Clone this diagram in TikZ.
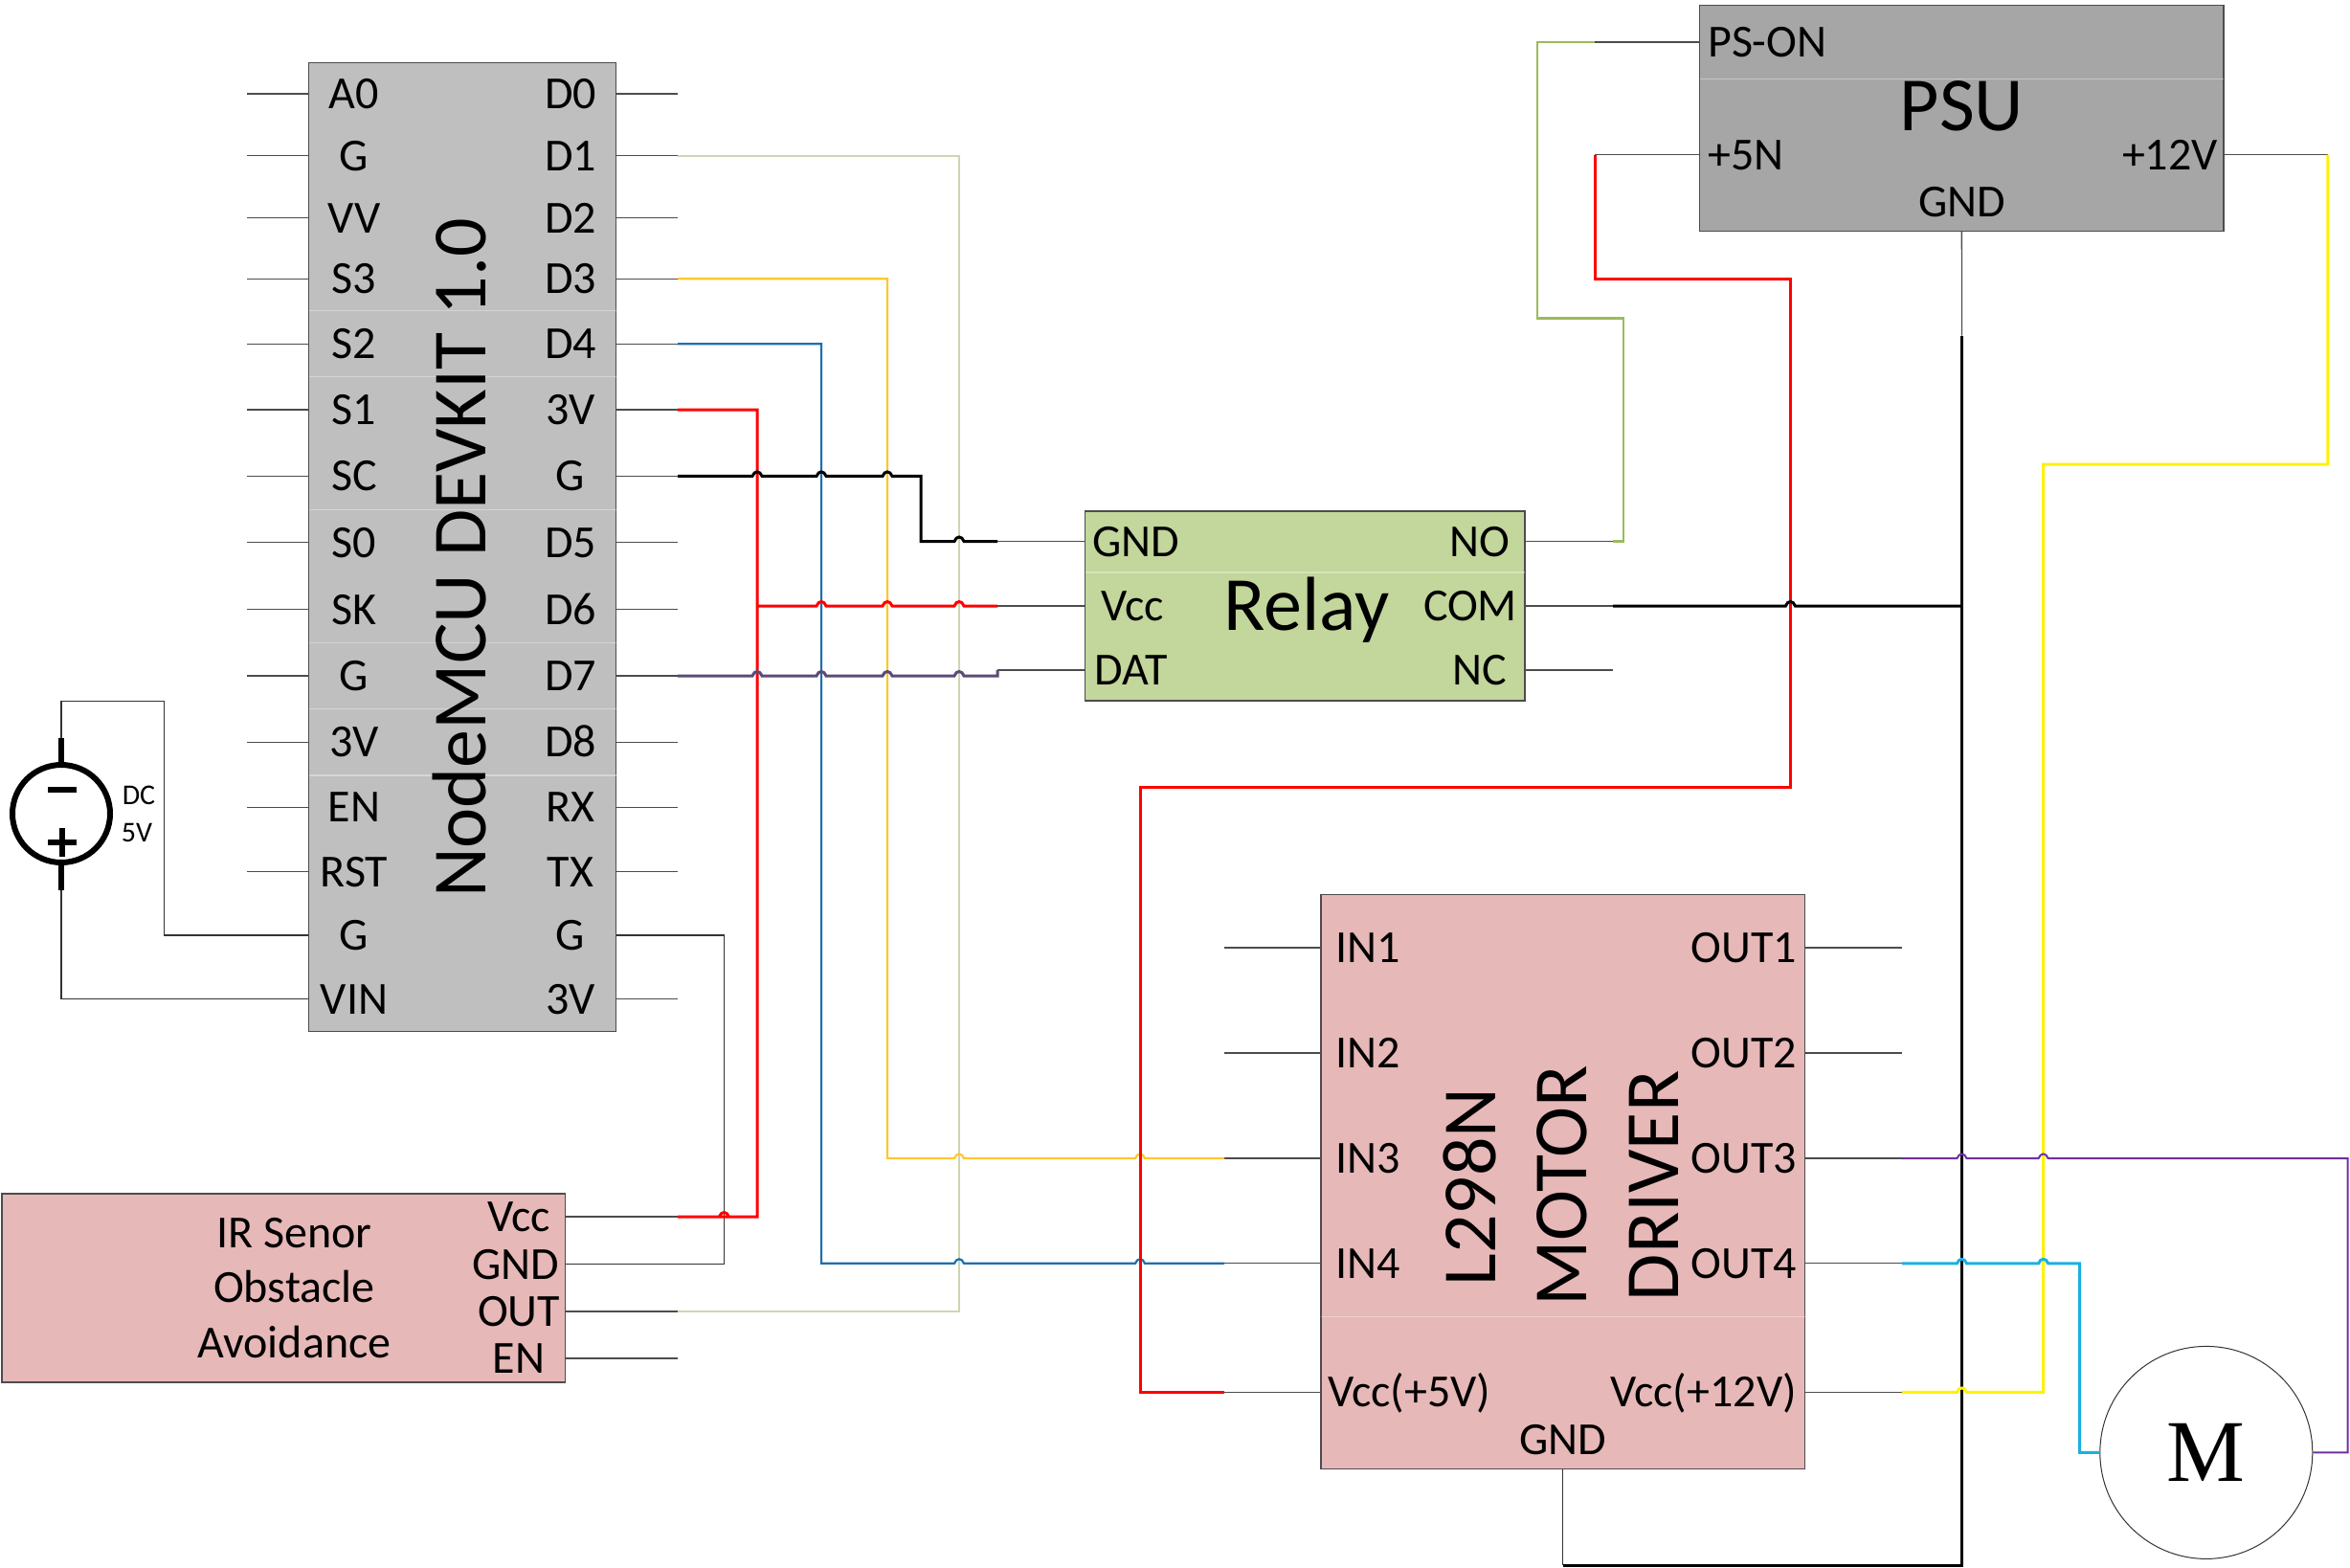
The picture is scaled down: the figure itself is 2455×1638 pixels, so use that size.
\documentclass[tikz,border=0pt]{standalone}
\usepackage{fontspec}
\setmainfont{Carlito}
\newfontfamily\motorfont{Liberation Serif}
\newcommand{\hop}[2]{-- (#1-5,#2) .. controls (#1-3,#2-6) and (#1+3,#2-6) .. (#1+5,#2)}
\definecolor{mcugray}{HTML}{BFBFBF}
\definecolor{psugray}{HTML}{A6A6A6}
\definecolor{relaygreen}{HTML}{C3D69B}
\definecolor{boardpink}{HTML}{E6B8B7}
\definecolor{creamline}{HTML}{CDD6B0}
\definecolor{goldline}{HTML}{FFC62E}
\definecolor{blueline}{HTML}{1F6FAE}
\definecolor{dulline}{HTML}{5A4A78}
\definecolor{greenline}{HTML}{9BBB59}
\definecolor{violetline}{HTML}{7030A0}
\definecolor{cyanline}{HTML}{1CB0E0}
\begin{document}
\begin{tikzpicture}[
	x=1pt,y=-1pt,
	board/.style={draw=black!70,line width=1.2pt,inner sep=0pt},
	pinname/.style={font=\fontsize{48}{52}\selectfont,inner sep=0pt,text height=31pt,text depth=0pt},
	bigname/.style={font=\fontsize{80}{86}\selectfont,inner sep=0pt,text height=51.5pt,text depth=0pt},
	smallname/.style={font=\fontsize{30}{34}\selectfont,inner sep=0pt,text height=19pt,text depth=0pt},
	sepline/.style={draw=white,opacity=.35,line width=1.5pt},
	stub/.style={draw=black!70,line width=1.3pt},
	thinwire/.style={draw=black!80,line width=1.3pt},
	lead/.style={draw=black,line width=6pt},
	wireblack/.style={draw=black,line width=3pt},
	wirered/.style={draw=red,line width=3pt},
	wirecream/.style={draw=creamline,line width=2pt},
	wiregold/.style={draw=goldline,line width=2.2pt},
	wireblue/.style={draw=blueline,line width=2.2pt},
	wiredull/.style={draw=dulline,line width=3pt},
	wiregreen/.style={draw=greenline,line width=2.5pt},
	wireyellow/.style={draw=yellow,line width=3pt},
	wireviolet/.style={draw=violetline,line width=2pt},
	wirecyan/.style={draw=cyanline,line width=3pt}
	]
	\useasboundingbox (0,0) rectangle (2455,1638);

	\node[board,fill=mcugray,minimum width=320.8pt,minimum height=1011.6pt] (mcu) at (483.1,571.6) {};
	\node[board,fill=boardpink,minimum width=588.6pt,minimum height=197pt] (ir) at (296.3,1345.5) {};
	\node[board,fill=relaygreen,minimum width=459.4pt,minimum height=198pt] (relay) at (1363.3,633) {};
	\node[board,fill=psugray,minimum width=547.3pt,minimum height=235.7pt] (psu) at (2049.35,123.45) {};
	\node[board,fill=boardpink,minimum width=505.6pt,minimum height=599.6pt] (driver) at (1632.8,1234.6) {};
	\node[draw=black!80,line width=1pt,circle,inner sep=0pt,minimum size=222pt,font=\fontsize{92}{100}\motorfont] (motor) at (2304.8,1517.4) {M};
	\node[draw=black,line width=6pt,circle,inner sep=0pt,minimum size=102pt] (dc) at (64,850) {};

	\draw[sepline] (322.7,324.5) -- (643.5,324.5);
	\draw[sepline] (322.7,393.4) -- (643.5,393.4);
	\draw[sepline] (322.7,532.7) -- (643.5,532.7);
	\draw[sepline] (322.7,671.4) -- (643.5,671.4);
	\draw[sepline] (322.7,740.3) -- (643.5,740.3);
	\draw[sepline] (322.7,810) -- (643.5,810);
	\draw[sepline] (1775.7,82.6) -- (2323,82.6);
	\draw[sepline] (1133.6,598) -- (1593,598);
	\draw[sepline] (1380,1375.3) -- (1885.6,1375.3);

	\node[bigname,rotate=90] (mcutitle) at (481.5,583) {NodeMCU DEVKIT 1.0};
	\node[bigname] (relaytitle) at (1364.7,633) {Relay};
	\node[bigname] (psutitle) at (2049.5,111) {PSU};
	\node[bigname,rotate=90] (drvtitlea) at (1536.5,1240) {L298N};
	\node[bigname,rotate=90] (drvtitleb) at (1631.6,1238.8) {MOTOR};
	\node[bigname,rotate=90] (drvtitlec) at (1728,1238.8) {DRIVER};
	\node[pinname] (irtitlea) at (307.4,1288) {IR Senor};
	\node[pinname] (irtitleb) at (307.4,1345) {Obstacle};
	\node[pinname] (irtitlec) at (307.4,1403) {Avoidance};
	\node[smallname] (dctext) at (145,831) {DC};
	\node[smallname] (vtext) at (143,870) {5V};

	\node[pinname] (a0) at (370,98) {A0};
	\node[pinname] (gl1) at (370,162.8) {G};
	\node[pinname] (vv) at (370,227.6) {VV};
	\node[pinname] (s3) at (370,291.3) {S3};
	\node[pinname] (s2) at (370,359.2) {S2};
	\node[pinname] (s1) at (370,428) {S1};
	\node[pinname] (sc) at (370,497.4) {SC};
	\node[pinname] (s0) at (370,566.8) {S0};
	\node[pinname] (sk) at (370,636.7) {SK};
	\node[pinname] (gl2) at (370,706) {G};
	\node[pinname] (vl3) at (370,775.4) {3V};
	\node[pinname] (en) at (370,843.3) {EN};
	\node[pinname] (rst) at (370,910.6) {RST};
	\node[pinname] (gl3) at (370,977) {G};
	\node[pinname] (vin) at (370,1043.8) {VIN};

	\node[pinname] (d0) at (596,98) {D0};
	\node[pinname] (d1) at (596,162.8) {D1};
	\node[pinname] (d2) at (596,227.6) {D2};
	\node[pinname] (d3) at (596,291.3) {D3};
	\node[pinname] (d4) at (596,359.2) {D4};
	\node[pinname] (vr1) at (596,428) {3V};
	\node[pinname] (gr1) at (596,497.4) {G};
	\node[pinname] (d5) at (596,566.8) {D5};
	\node[pinname] (d6) at (596,636.7) {D6};
	\node[pinname] (d7) at (596,706) {D7};
	\node[pinname] (d8) at (596,775.4) {D8};
	\node[pinname] (rx) at (596,843.3) {RX};
	\node[pinname] (tx) at (596,910.6) {TX};
	\node[pinname] (gr2) at (596,977) {G};
	\node[pinname] (vr2) at (596,1043.8) {3V};

	\node[pinname] (irvcc) at (542,1271) {Vcc};
	\node[pinname] (irgnd) at (539,1320.8) {GND};
	\node[pinname] (irout) at (542,1370) {OUT};
	\node[pinname] (iren) at (542,1419) {EN};

	\node[pinname,anchor=west] (rgnd) at (1141,565.5) {GND};
	\node[pinname] (rvcc) at (1183,633) {Vcc};
	\node[pinname,anchor=west] (rdat) at (1143,700) {DAT};
	\node[pinname] (rno) at (1545.6,565.5) {NO};
	\node[pinname] (rcom) at (1536,633) {COM};
	\node[pinname] (rnc) at (1546,700) {NC};

	\node[pinname,anchor=west] (pson) at (1784,44) {PS-ON};
	\node[pinname,anchor=west] (p5) at (1784,161.7) {+5N};
	\node[pinname,anchor=east] (p12) at (2317,161.7) {+12V};
	\node[pinname] (pgnd) at (2049.5,210.7) {GND};

	\node[pinname,anchor=west] (in1) at (1395,990) {IN1};
	\node[pinname,anchor=west] (in2) at (1395,1100) {IN2};
	\node[pinname,anchor=west] (in3) at (1395,1210) {IN3};
	\node[pinname,anchor=west] (in4) at (1395,1319.8) {IN4};
	\node[pinname,anchor=east] (out1) at (1877,990) {OUT1};
	\node[pinname,anchor=east] (out2) at (1877,1100) {OUT2};
	\node[pinname,anchor=east] (out3) at (1877,1210) {OUT3};
	\node[pinname,anchor=east] (out4) at (1877,1319.8) {OUT4};
	\node[pinname,anchor=west] (vcc5) at (1387,1454.4) {Vcc(+5V)};
	\node[pinname,anchor=east] (vcc12) at (1877,1454.4) {Vcc(+12V)};
	\node[pinname] (dgnd) at (1632.4,1503.8) {GND};

	\coordinate (mcuL) at (258,0);
	\coordinate (mcuR) at (708,0);
	\coordinate (relL) at (1042,0);
	\coordinate (relR) at (1685,0);
	\coordinate (drvL) at (1279,0);
	\coordinate (drvR) at (1986.8,0);
	\coordinate (chred) at (791,0);
	\coordinate (chblue) at (858,0);
	\coordinate (chgold) at (927,0);
	\coordinate (chcream) at (1002,0);
	\coordinate (chblack) at (962,0);
	\coordinate (chgray) at (756.4,0);
	\coordinate (chpsu) at (1666,0);
	\coordinate (chcyan) at (2172.6,0);
	\coordinate (chedge) at (2452.6,0);
	\coordinate (redA) at (1870.4,291.8);
	\coordinate (redB) at (1191,822);
	\coordinate (yelA) at (2134.6,485);
	\coordinate (yelB) at (2431.8,485);
	\coordinate (grnA) at (1696,332.6);
	\coordinate (grnB) at (1606,332.6);
	\coordinate (busTop) at (2049.5,350.5);
	\coordinate (busBot) at (2049.5,1635);
	\coordinate (dcTop) at (64,771);
	\coordinate (dcBot) at (64,930);
	\coordinate (dcA) at (171.6,732.5);

	\draw[stub] (mcuL |- a0) -- (mcu.west |- a0);
	\draw[stub] (mcuL |- gl1) -- (mcu.west |- gl1);
	\draw[stub] (mcuL |- vv) -- (mcu.west |- vv);
	\draw[stub] (mcuL |- s3) -- (mcu.west |- s3);
	\draw[stub] (mcuL |- s2) -- (mcu.west |- s2);
	\draw[stub] (mcuL |- s1) -- (mcu.west |- s1);
	\draw[stub] (mcuL |- sc) -- (mcu.west |- sc);
	\draw[stub] (mcuL |- s0) -- (mcu.west |- s0);
	\draw[stub] (mcuL |- sk) -- (mcu.west |- sk);
	\draw[stub] (mcuL |- gl2) -- (mcu.west |- gl2);
	\draw[stub] (mcuL |- vl3) -- (mcu.west |- vl3);
	\draw[stub] (mcuL |- en) -- (mcu.west |- en);
	\draw[stub] (mcuL |- rst) -- (mcu.west |- rst);

	\draw[stub] (mcu.east |- d0) -- (mcuR |- d0);
	\draw[stub] (mcu.east |- d1) -- (mcuR |- d1);
	\draw[stub] (mcu.east |- d2) -- (mcuR |- d2);
	\draw[stub] (mcu.east |- d3) -- (mcuR |- d3);
	\draw[stub] (mcu.east |- d4) -- (mcuR |- d4);
	\draw[stub] (mcu.east |- vr1) -- (mcuR |- vr1);
	\draw[stub] (mcu.east |- gr1) -- (mcuR |- gr1);
	\draw[stub] (mcu.east |- d5) -- (mcuR |- d5);
	\draw[stub] (mcu.east |- d6) -- (mcuR |- d6);
	\draw[stub] (mcu.east |- d7) -- (mcuR |- d7);
	\draw[stub] (mcu.east |- d8) -- (mcuR |- d8);
	\draw[stub] (mcu.east |- rx) -- (mcuR |- rx);
	\draw[stub] (mcu.east |- tx) -- (mcuR |- tx);
	\draw[stub] (mcu.east |- vr2) -- (mcuR |- vr2);

	\draw[stub] (ir.east |- irvcc) -- (mcuR |- irvcc);
	\draw[stub] (ir.east |- irout) -- (mcuR |- irout);
	\draw[stub] (ir.east |- iren) -- (mcuR |- iren);

	\draw[stub] (relL |- rgnd) -- (relay.west |- rgnd);
	\draw[stub] (relL |- rvcc) -- (relay.west |- rvcc);
	\draw[stub] (relL |- rdat) -- (relay.west |- rdat);
	\draw[stub] (relay.east |- rno) -- (relR |- rno);
	\draw[stub] (relay.east |- rcom) -- (relR |- rcom);
	\draw[stub] (relay.east |- rnc) -- (relR |- rnc);

	\draw[stub] (chpsu |- pson) -- (psu.west |- pson);
	\draw[stub] (chpsu |- p5) -- (psu.west |- p5);
	\draw[stub] (psu.east |- p12) -- (yelB |- p12);
	\draw[stub] (psu.south) -- (busTop);

	\draw[stub] (drvL |- in1) -- (driver.west |- in1);
	\draw[stub] (drvL |- in2) -- (driver.west |- in2);
	\draw[stub] (drvL |- in3) -- (driver.west |- in3);
	\draw[stub] (drvL |- in4) -- (driver.west |- in4);
	\draw[stub] (drvL |- vcc5) -- (driver.west |- vcc5);
	\draw[stub] (driver.east |- out1) -- (drvR |- out1);
	\draw[stub] (driver.east |- out2) -- (drvR |- out2);
	\draw[stub] (driver.east |- out3) -- (drvR |- out3);
	\draw[stub] (driver.east |- out4) -- (drvR |- out4);
	\draw[stub] (driver.east |- vcc12) -- (drvR |- vcc12);

	\draw[lead] (dc.north) -- (dcTop);
	\draw[lead] (dc.south) -- (dcBot);
	\draw[lead] (50,825) -- (80,825);
	\draw[lead] (50,880) -- (80,880);
	\draw[lead] (65,865) -- (65,895);
	\draw[thinwire] (dcTop) |- (dcA) -- (dcA |- gl3) -- (mcu.west |- gl3);
	\draw[thinwire] (dcBot) |- (mcu.west |- vin);
	\draw[thinwire] (mcu.east |- gr2) -| (chgray |- irgnd) -- (ir.east |- irgnd);

	\draw[wirecream] (mcuR |- d1) -| (chcream |- irout) -- (mcuR |- irout);
	\draw[wiregold] (mcuR |- d3) -| (chgold |- in3) \hop{1002}{1210} \hop{1191}{1210} -- (drvL |- in3);
	\draw[wireblue] (mcuR |- d4) -| (chblue |- in4) \hop{1002}{1319.8} \hop{1191}{1319.8} -- (drvL |- in4);
	\draw[wirered] (mcuR |- vr1) -| (chred |- irvcc) \hop{756.4}{1271} -- (mcuR |- irvcc);
	\draw[wirered] (chred |- rvcc) \hop{858}{633} \hop{927}{633} \hop{1002}{633} -- (relL |- rvcc);
	\draw[wireblack] (mcuR |- gr1) \hop{791}{497.4} \hop{858}{497.4} \hop{927}{497.4} -- (chblack |- gr1) -- (chblack |- rgnd) \hop{1002}{565.5} -- (relL |- rgnd);
	\draw[wiredull] (mcuR |- d7) \hop{791}{706} \hop{858}{706} \hop{927}{706} \hop{1002}{706} -- (relL |- d7) -- (relL |- rdat);

	\draw[wiregreen] (relR |- rno) -- (grnA |- rno) -- (grnA) -- (grnB) -- (grnB |- pson) -- (chpsu |- pson);
	\draw[wirered] (chpsu |- p5) |- (redA) |- (redB) -- (redB |- vcc5) -- (drvL |- vcc5);
	\draw[wireblack] (relR |- rcom) \hop{1870.4}{633} -- (busTop |- rcom);
	\draw[wireblack] (busTop) -- (busBot) -- (driver.south |- busBot);
	\draw[thinwire] (driver.south) -- (driver.south |- busBot);

	\draw[wireyellow] (drvR |- vcc12) \hop{2049.5}{1454.4} -- (yelA |- vcc12) -- (yelA) -- (yelB) -- (yelB |- p12);
	\draw[wireviolet] (drvR |- out3) \hop{2049.5}{1210} \hop{2134.6}{1210} -- (chedge |- out3) -- (chedge |- motor) -- (motor.east);
	\draw[wirecyan] (drvR |- out4) \hop{2049.5}{1319.8} \hop{2134.6}{1319.8} -- (chcyan |- out4) -- (chcyan |- motor) -- (motor.west);
\end{tikzpicture}
\end{document}
